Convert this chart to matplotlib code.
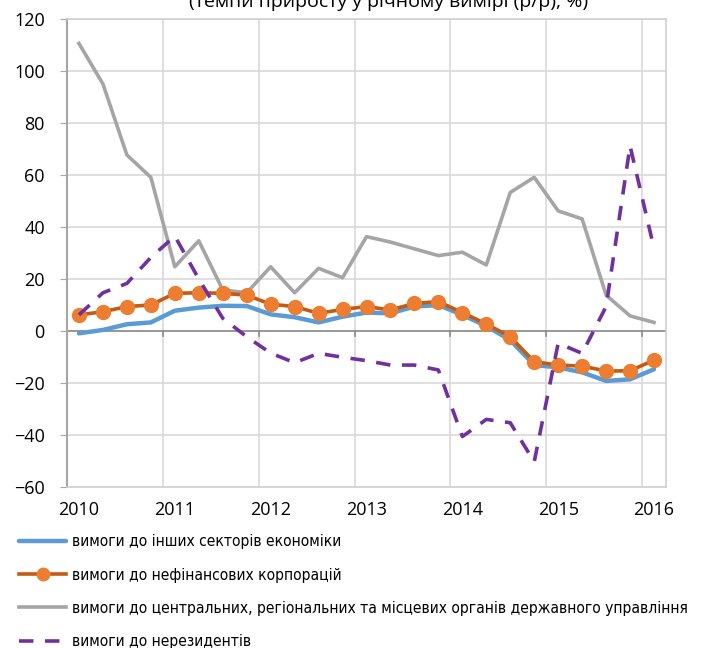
import matplotlib
matplotlib.use("Agg")
import matplotlib.pyplot as plt
import numpy as np

plt.rcParams['font.family'] = ['Open Sans', 'DejaVu Sans']

title = "(темпи приросту у річному вимірі (р/р), %)"
years = ["2010", "2011", "2012", "2013", "2014", "2015", "2016"]
# quarterly, 2010Q1 .. 2016Q1
other_sectors = [-0.9, 0.4, 2.6, 3.3, 7.8, 9.0, 9.7, 9.6, 6.4, 5.3, 3.3, 5.5, 7.1,
                 6.8, 9.4, 10.0, 6.2, 1.9, -3.5, -13.1, -14.0, -15.9, -19.2, -18.6, -14.7]
nonfin_corps = [6.2, 7.4, 9.4, 10.0, 14.5, 14.7, 14.5, 13.8, 10.3, 9.4, 6.8, 8.3, 9.4,
                8.1, 10.6, 11.3, 7.1, 2.7, -2.2, -11.8, -13.1, -13.5, -15.4, -15.3, -11.2]
government = [110.6, 95.0, 67.7, 59.1, 24.7, 34.7, 15.8, 14.7, 24.7, 14.7, 24.1, 20.5, 36.3,
              34.2, 31.6, 29.0, 30.3, 25.4, 53.3, 59.1, 46.2, 43.1, 13.8, 5.8, 3.3]
nonresidents = [6.2, 14.7, 18.3, 28.3, 36.5, 20.0, 4.9, -2.2, -8.5, -12.2, -8.6, -10.1, -11.4,
                -13.1, -13.1, -15.0, -40.6, -34.0, -35.3, -50.3, -4.7, -8.6, 9.4, 71.2, 31.8]
labels = ["вимоги до інших секторів економіки",
          "вимоги до нефінансових корпорацій",
          "вимоги до центральних, регіональних та місцевих органів державного управління",
          "вимоги до нерезидентів"]

n = len(other_sectors)
x = np.arange(n)

fig = plt.figure(figsize=(7.04, 6.48), dpi=100)
ax = fig.add_axes([67/704, 1-487/648, 599/704, 468/648])

l1, = ax.plot(x, other_sectors, color='#5B9BD5', lw=3.2, solid_capstyle='round', zorder=3)
l2, = ax.plot(x, nonfin_corps, color='#C55A11', lw=2.6, marker='o', ms=10,
              mfc='#ED7D31', mec='#ED7D31', zorder=4)
l3, = ax.plot(x, government, color='#A5A5A5', lw=2.6, zorder=2)
l4, = ax.plot(x, nonresidents, color='#7030A0', lw=2.6, dashes=(4, 3.2), zorder=5)

ax.set_xlim(-0.5, n - 0.5)
ax.set_ylim(-60, 120)
ax.set_yticks(np.arange(-60, 121, 20))
ax.tick_params(axis='y', labelsize=13, length=5, color='#A6A6A6', pad=11)

ax.set_xticks(np.arange(0, n, 4))
ax.set_xticklabels(years, fontsize=13)
ax.set_xticks(np.arange(-0.5, n, 4), minor=True)
ax.tick_params(axis='x', which='both', length=0, pad=10)
ax.grid(axis='y', color='#D9D9D9', lw=1.2)
ax.grid(axis='x', which='minor', color='#D9D9D9', lw=1.2)
ax.grid(axis='x', which='major', visible=False)
ax.set_axisbelow(True)

for s in ['top', 'right', 'bottom']:
    ax.spines[s].set_color('#D0D0D0')
    ax.spines[s].set_linewidth(1.2)
ax.spines['left'].set_color('#A6A6A6')
ax.spines['left'].set_linewidth(1.5)

ax.axhline(0, color='#8C8C8C', lw=1.2, zorder=1.5)
for xb in np.arange(3.5, n, 4):
    ax.plot([xb, xb], [0, -2], color='#8C8C8C', lw=1.2, zorder=1.5)

fig.text(389/704, 1 - 7/648, title, ha='center', va='baseline', fontsize=14)

leg = fig.legend([l1, l2, l3, l4], labels, loc='upper left',
                 bbox_to_anchor=(10/704, 1 - 525/648), frameon=False,
                 handlelength=3.0, handletextpad=0.4, labelspacing=1.17,
                 borderaxespad=0.3, borderpad=0.3,
                 prop={'family': 'DejaVu Sans', 'stretch': 'condensed', 'size': 11.2})
for h in leg.legend_handles:
    h.set_markersize(9)

fig.savefig("out.png", dpi=100)
